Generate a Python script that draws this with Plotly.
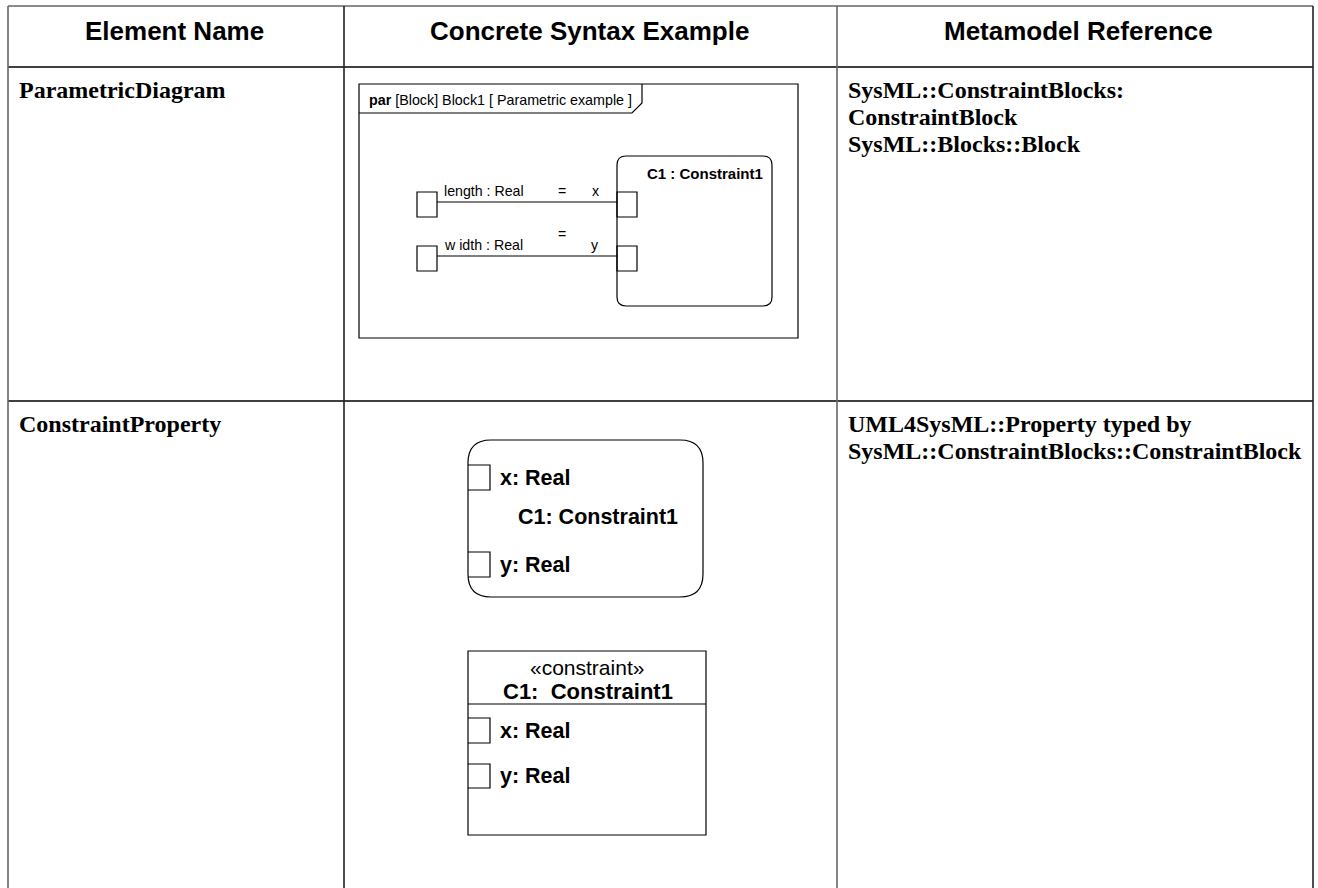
import plotly.graph_objects as go

W, H = 1318, 888

# ---- table content ----
headers = ["Element Name", "Concrete Syntax Example", "Metamodel Reference"]
element_names = ["ParametricDiagram", "ConstraintProperty"]
metamodel_refs = [
    ["SysML::ConstraintBlocks:", "ConstraintBlock", "SysML::Blocks::Block"],
    ["UML4SysML::Property typed by", "SysML::ConstraintBlocks::ConstraintBlock"],
]

# ---- diagram texts ----
par_frame_title = "<b>par</b> [Block] Block1 [ Parametric example ]"
constraint_name = "C1 : Constraint1"
value_props = ["length : Real", "w idth : Real"]
bind_params = ["x", "y"]
cp_round_name = "C1: Constraint1"
cp_params = ["x: Real", "y: Real"]
cp_stereo = "«constraint»"
cp_rect_name = "C1:  Constraint1"

# ---- layout geometry (pixels) ----
col_x = [8, 344, 837, 1313]
top_y, head_y, row_y = 6, 67, 401

shapes = []
annotations = []

def line(x0, y0, x1, y1, color="#000", w=1.5):
    shapes.append(dict(type="line", xref="x", yref="y", x0=x0, y0=y0, x1=x1, y1=y1,
                       line=dict(color=color, width=w)))

def rect(x0, y0, x1, y1, color="#000", w=1.2, fill="rgba(0,0,0,0)"):
    shapes.append(dict(type="rect", xref="x", yref="y", x0=x0, y0=y0, x1=x1, y1=y1,
                       line=dict(color=color, width=w), fillcolor=fill))

def path(d, color="#000", w=1.2):
    shapes.append(dict(type="path", xref="x", yref="y", path=d,
                       line=dict(color=color, width=w)))

def rrect(x0, y0, x1, y1, r, color="#000", w=1.2):
    d = (f"M {x0+r},{y0} L {x1-r},{y0} Q {x1},{y0} {x1},{y0+r} "
         f"L {x1},{y1-r} Q {x1},{y1} {x1-r},{y1} L {x0+r},{y1} "
         f"Q {x0},{y1} {x0},{y1-r} L {x0},{y0+r} Q {x0},{y0} {x0+r},{y0} Z")
    path(d, color, w)

def text(x, y, s, size, family, color="#000", xanchor="left", bold=False):
    if bold:
        s = f"<b>{s}</b>"
    annotations.append(dict(x=x, y=y, xref="x", yref="y", text=s, showarrow=False,
                            xanchor=xanchor, yanchor="middle",
                            font=dict(size=size, family=family, color=color)))

SANS = "Liberation Sans, Arial, sans-serif"
SERIF = "Liberation Serif, Times New Roman, serif"

# ---- table grid ----
line(col_x[0], top_y, col_x[-1], top_y, "#666", 1.6)
line(col_x[0], head_y, col_x[-1], head_y, "#000", 1.6)
line(col_x[0], row_y, col_x[-1], row_y, "#000", 1.6)
for i, x in enumerate(col_x):
    line(x, top_y, x, H, "#666" if i in (0, 2) else "#222", 1.6)

# headers
header_cx = [174, 589, 1078]
for cx, h in zip(header_cx, headers):
    text(cx, 31, h, 26, SANS, xanchor="center", bold=True)

# element names
row_text_y = [90, 424]
for y, n in zip(row_text_y, element_names):
    text(17, y, n, 24, SERIF, bold=True)

# metamodel refs
for y0, lines in zip(row_text_y, metamodel_refs):
    for k, s in enumerate(lines):
        text(846, y0 + k * 27, s, 24, SERIF, bold=True)

# ---- parametric diagram ----
rect(359, 84, 798, 338, w=1.2)
path("M 359,113 L 632,113 L 642,103 L 642,84", w=1.2)
text(367, 100, par_frame_title, 14.3, SANS)
rrect(617, 156, 772, 306, 9)
text(645, 173, constraint_name, 15, SANS, bold=True)
port_rows = [(192, 217), (246, 271)]
for (py0, py1), vp, bp, eqy, lbly in zip(port_rows, value_props, bind_params, [191, 234], [191, 245]):
    rect(417, py0, 437, py1)
    rect(617, py0, 637, py1)
    ly = (py0 + py1) / 2 - 2.5
    line(437, ly, 617, ly, w=1.2)
    text(442, lbly, vp, 14.2, SANS)
    text(562, eqy, "=", 14.2, SANS, xanchor="center")
    text(595, lbly, bp, 14.2, SANS, xanchor="center")

# ---- constraint property (round) ----
rrect(468, 440, 703, 597, 23)
cp_round_ports = [(465, 490), (552, 577)]
for (py0, py1), s in zip(cp_round_ports, cp_params):
    path(f"M 468,{py0} L 490,{py0} L 490,{py1} L 468,{py1}")
    text(498, (py0 + py1) / 2, s, 21.5, SANS, bold=True)
text(516, 517, cp_round_name, 21.5, SANS, bold=True)

# ---- constraint property (rect) ----
rect(468, 651, 706, 835)
line(468, 704, 706, 704, w=1.2)
text(587, 667, cp_stereo, 21, SANS, xanchor="center")
text(588, 691, cp_rect_name, 22, SANS, xanchor="center", bold=True)
cp_rect_ports = [(718, 743), (764, 788)]
for (py0, py1), s in zip(cp_rect_ports, cp_params):
    path(f"M 468,{py0} L 490,{py0} L 490,{py1} L 468,{py1}")
    text(498, (py0 + py1) / 2, s, 21.5, SANS, bold=True)

fig = go.Figure()
fig.add_trace(go.Scatter(x=[0, W], y=[0, H], mode="markers",
                         marker=dict(opacity=0), hoverinfo="skip", showlegend=False))
fig.update_layout(
    width=W, height=H, margin=dict(l=0, r=0, t=0, b=0),
    paper_bgcolor="white", plot_bgcolor="white",
    xaxis=dict(range=[0, W], visible=False, fixedrange=True),
    yaxis=dict(range=[H, 0], visible=False, fixedrange=True),
    shapes=shapes, annotations=annotations, showlegend=False,
)
fig.write_html(
    "out.html",
    config={"displayModeBar": False},
    post_script="document.body.style.margin='0';document.body.style.overflow='hidden';",
)
